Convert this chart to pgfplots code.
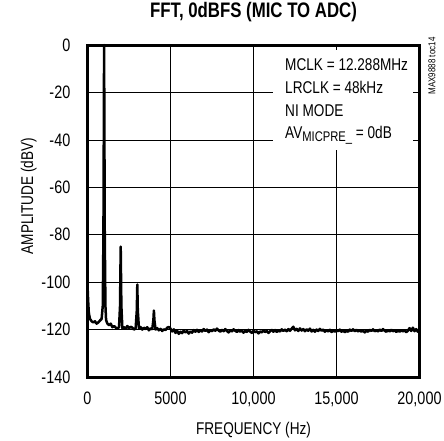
\documentclass[border=0pt]{standalone}
\usepackage{pgfplots}
\pgfplotsset{compat=1.18}
\usepackage{fontspec}
\setmainfont{Liberation Sans}[FakeStretch=0.8]
\begin{document}
\begin{tikzpicture}
\useasboundingbox (-87.5pt,-63pt) rectangle (356.5pt,377pt);
\begin{axis}[
  at={(0pt,0pt)}, anchor=south west,
  scale only axis, width=332pt, height=332pt,
  xmin=0, xmax=20000, ymin=-140, ymax=0,
  xtick={0,5000,10000,15000,20000},
  xticklabels={0,5000,{10,000},{15,000},{20,000}},
  ytick={-140,-120,-100,-80,-60,-40,-20,0},
  yticklabels={-140,-120,-100,-80,-60,-40,-20,0},
  /pgf/number format/assume math mode=true,
  scaled x ticks=false,
  grid=major,
  major grid style={black, line width=0.7pt},
  axis line style={line width=3pt, black},
  tick style={draw=none},
  ticklabel style={font=\fontsize{18}{18}\selectfont},
  xticklabel style={anchor=north, inner sep=0pt, yshift=-15pt},
  yticklabel style={anchor=east, inner sep=0pt, xshift=-17pt},
  xlabel={FREQUENCY (Hz)},
  ylabel={AMPLITUDE (dBV)},
  xlabel style={at={(axis description cs:0.5,-0.1717)}, anchor=base, inner sep=0pt, font=\fontsize{17}{17}\selectfont},
  ylabel style={at={(axis description cs:-0.164,0.545)}, anchor=base, inner sep=0pt, font=\fontsize{17}{17}\selectfont},
  title={FFT, 0dBFS (MIC TO ADC)},
  title style={at={(axis description cs:0.5,1.0633)}, anchor=base, inner sep=0pt, font=\bfseries\fontsize{21}{21}\selectfont},
  clip=false,
]
\addplot[black, line width=2.5pt, line join=round] coordinates {
(0,-101) (40,-108) (80,-113) (150,-115.5) (250,-116.5) (350,-117) (450,-116.5) (550,-117.5) (650,-117) (750,-116.2) (850,-115.5) (920,-110) (960,-80) (985,-30) (1000,0) (1015,-30) (1040,-80) (1080,-110) (1120,-116) (1200,-117.5) (1300,-118.2) (1400,-117.5) (1500,-119) (1600,-118.5) (1700,-119.2) (1800,-119.6) (1900,-119) (1960,-110) (2000,-85) (2040,-110) (2100,-119.5) (2200,-119) (2300,-119.6) (2400,-118.5) (2500,-119.5) (2600,-118.8) (2700,-119.2) (2800,-120) (2900,-119.5) (2970,-112) (3000,-101) (3030,-112) (3100,-119.5) (3200,-119) (3300,-120) (3400,-119.2) (3500,-119.8) (3600,-119) (3700,-120.3) (3800,-119.5) (3900,-119.8) (3970,-116) (4000,-112) (4030,-116)
(4100,-120.0) (4200,-119.4) (4300,-120.3) (4400,-119.7) (4500,-120.6) (4600,-119.9) (4700,-120.2) (4800,-119.2) (4900,-118.9) (5000,-119.6)
(5100,-120.8) (5200,-119.9) (5300,-121.4) (5400,-120.5) (5500,-121.8) (5600,-120.9) (5700,-121.5) (5800,-120.4) (5900,-121.2) (6000,-120.6)
(6100,-121.7) (6200,-120.8) (6300,-121.3) (6400,-120.2) (6500,-120.9) (6600,-120.1) (6700,-121.0) (6800,-120.3) (6900,-120.8) (7000,-119.8)
(7100,-120.6) (7200,-120.0) (7300,-121.1) (7400,-120.2) (7500,-120.7) (7600,-119.9) (7700,-120.5) (7800,-119.6) (7900,-120.4) (8000,-120.9)
(8100,-120.1) (8200,-120.7) (8300,-119.8) (8400,-120.6) (8500,-121.2) (8600,-120.3) (8700,-120.8) (8800,-119.9) (8900,-120.5) (9000,-121.0)
(9100,-120.2) (9200,-120.9) (9300,-120.4) (9400,-121.3) (9500,-120.6) (9600,-121.0) (9700,-120.1) (9800,-120.8) (9900,-121.4) (10000,-120.5)
(10100,-121.1) (10200,-120.7) (10300,-121.6) (10400,-120.8) (10500,-121.2) (10600,-120.3) (10700,-121.0) (10800,-120.6) (10900,-121.4) (11000,-120.7)
(11100,-120.1) (11200,-120.9) (11300,-120.2) (11400,-121.0) (11500,-120.4) (11600,-120.8) (11700,-119.9) (11800,-120.6) (11900,-120.0) (12000,-120.7)
(12100,-119.8) (12200,-120.5) (12300,-119.6) (12400,-118.8) (12500,-120.3) (12600,-119.7) (12700,-120.6) (12800,-119.5) (12900,-120.4) (13000,-119.8)
(13100,-120.7) (13200,-119.9) (13300,-120.5) (13400,-119.6) (13500,-120.8) (13600,-120.1) (13700,-120.9) (13800,-120.0) (13900,-120.6) (14000,-119.7)
(14100,-120.5) (14200,-120.0) (14300,-120.9) (14400,-120.2) (14500,-120.8) (14600,-120.1) (14700,-121.0) (14800,-120.4) (14900,-120.9) (15000,-120.2)
(15100,-120.7) (15200,-120.0) (15300,-120.9) (15400,-120.3) (15500,-121.1) (15600,-120.5) (15700,-120.9) (15800,-120.0) (15900,-120.6) (16000,-119.9)
(16100,-120.7) (16200,-120.1) (16300,-120.8) (16400,-120.2) (16500,-120.9) (16600,-120.4) (16700,-121.2) (16800,-120.5) (16900,-120.9) (17000,-120.1)
(17100,-120.6) (17200,-119.9) (17300,-120.7) (17400,-120.3) (17500,-120.8) (17600,-120.0) (17700,-120.6) (17800,-119.8) (17900,-120.5) (18000,-120.9)
(18100,-120.2) (18200,-120.8) (18300,-120.1) (18400,-120.7) (18500,-120.3) (18600,-121.0) (18700,-120.4) (18800,-120.9) (18900,-120.2) (19000,-120.8)
(19100,-120.3) (19200,-121.1) (19300,-120.5) (19400,-119.4) (19500,-120.6) (19600,-119.2) (19700,-120.7) (19800,-119.8) (19900,-120.9) (20000,-120.3)
};
\fill[white] (axis description cs:0.5587,0.684) rectangle (axis description cs:0.98,0.985);
\begin{scope}[font=\fontsize{17}{17}\selectfont]
\node[anchor=base west, inner sep=0pt] at (axis description cs:0.595,0.9217) {MCLK = 12.288MHz};
\node[anchor=base west, inner sep=0pt] at (axis description cs:0.595,0.8539) {LRCLK = 48kHz};
\node[anchor=base west, inner sep=0pt] at (axis description cs:0.595,0.786) {NI MODE};
\node[anchor=base west, inner sep=0pt] at (axis description cs:0.595,0.7184) {AV\raisebox{-3.5pt}{\fontsize{14}{14}\selectfont MICPRE\_} = 0dB};
\end{scope}
\node[rotate=90, anchor=center, inner sep=0pt, font=\fontsize{10}{10}\selectfont] at (axis description cs:1.0377,0.937) {MAX9888 toc14};
\end{axis}
\end{tikzpicture}
\end{document}
